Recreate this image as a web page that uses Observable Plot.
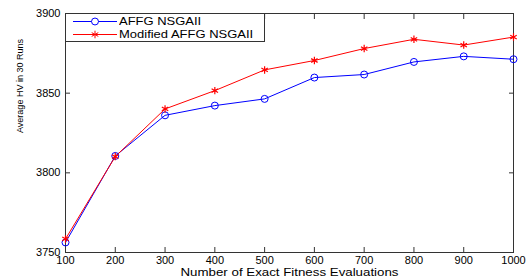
<!DOCTYPE html>
<html>
<head>
<meta charset="utf-8">
<script src="https://cdn.jsdelivr.net/npm/d3@7"></script>
<script src="https://cdn.jsdelivr.net/npm/@observablehq/plot@0.6"></script>
<style>
  html, body { margin: 0; padding: 0; background: #fff; }
  #wrap { position: relative; width: 529px; height: 280px; font-family: "Liberation Sans", Arial, sans-serif; }
  #legend { position: absolute; left: 65px; top: 13px; width: 200px; height: 29px; border: 1px solid #333; background: #fff; box-sizing: border-box; font-size: 11px; color: #000; }
  #legend .row { position: absolute; left: 0; height: 13px; line-height: 13px; white-space: nowrap; }
  #legend svg { position: absolute; left: 7px; top: 0; }
  #legend span { position: absolute; left: 53px; top: 0; transform: scaleX(1.18); transform-origin: left center; }
</style>
</head>
<body>
<div id="wrap"></div>
<script>
const evaluations = [100, 200, 300, 400, 500, 600, 700, 800, 900, 1000];
const affgNSGAII = [3756.3, 3810.6, 3836.1, 3842.2, 3846.4, 3859.8, 3861.7, 3869.6, 3873.1, 3871.3];
const modifiedAffgNSGAII = [3758.5, 3810.2, 3840.1, 3851.6, 3864.6, 3870.5, 3878.0, 3883.8, 3880.2, 3885.2];
const seriesNames = ["AFFG NSGAII", "Modified AFFG NSGAII"];
const xTicks = [100, 200, 300, 400, 500, 600, 700, 800, 900, 1000];
const yTicks = [3750, 3800, 3850, 3900];
const xLabel = "Number of Exact Fitness Evaluations";
const yLabel = "Average HV in 30 Runs";

const blue = evaluations.map((x, i) => ({x, y: affgNSGAII[i]}));
const red = evaluations.map((x, i) => ({x, y: modifiedAffgNSGAII[i]}));

const fmt = d3.format("d");
const font = "Liberation Sans, Arial, sans-serif";
const plot = Plot.plot({
  width: 529,
  height: 280,
  marginLeft: 65,
  marginRight: 16,
  marginTop: 13,
  marginBottom: 28,
  style: {fontFamily: font, fontSize: "11px", background: "#fff", color: "#000"},
  x: {domain: [100, 1000]},
  y: {domain: [3750, 3900]},
  marks: [
    // labels
    Plot.axisX(xTicks, {anchor: "bottom", tickSize: 0, tickPadding: 4, tickFormat: fmt, label: null, fill: "#000"}),
    Plot.axisY(yTicks, {anchor: "left", tickSize: 0, tickPadding: 5, tickFormat: fmt, label: null, fill: "#000"}),
    // inward ticks
    Plot.axisX(xTicks, {anchor: "bottom", tickSize: -5, tickFormat: () => "", label: null, stroke: "#333"}),
    Plot.axisX(xTicks, {anchor: "top", tickSize: -5, tickFormat: () => "", label: null, stroke: "#333"}),
    Plot.axisY(yTicks, {anchor: "left", tickSize: -5, tickFormat: () => "", label: null, stroke: "#333"}),
    Plot.axisY(yTicks, {anchor: "right", tickSize: -5, tickFormat: () => "", label: null, stroke: "#333"}),
    Plot.frame({stroke: "#333"}),
    Plot.line(blue, {x: "x", y: "y", stroke: "#0000ff", strokeWidth: 1}),
    Plot.line(red, {x: "x", y: "y", stroke: "#ff0000", strokeWidth: 1}),
    Plot.dot(blue, {x: "x", y: "y", r: 3.5, stroke: "#0000ff", fill: "none", strokeWidth: 1}),
    Plot.dot(red, {x: "x", y: "y", r: 3.5, symbol: "asterisk", stroke: "#ff0000", strokeWidth: 1.2}),
    Plot.text([xLabel], {frameAnchor: "bottom", dy: 23, text: d => d, fontSize: 11, fill: "#000"}),
    Plot.text([yLabel], {frameAnchor: "left", dx: -46, rotate: -90, text: d => d, fontSize: 9.5, fill: "#000"})
  ]
});
// stretch axis titles to the reference's wider lettering
d3.select(plot).selectAll("text").each(function() {
  const t = this.textContent;
  if (t === xLabel) this.setAttribute("textLength", 218), this.setAttribute("lengthAdjust", "spacingAndGlyphs");
  if (t === yLabel) this.setAttribute("textLength", 94), this.setAttribute("lengthAdjust", "spacingAndGlyphs");
});
const wrap = document.getElementById("wrap");
wrap.appendChild(plot);

// legend overlay
const legend = document.createElement("div");
legend.id = "legend";
const entries = [
  {name: seriesNames[0], color: "#0000ff", symbol: "circle"},
  {name: seriesNames[1], color: "#ff0000", symbol: "asterisk"}
];
entries.forEach((e, i) => {
  const row = document.createElement("div");
  row.className = "row";
  row.style.top = (1 + i * 13) + "px";
  row.style.width = "100%";
  const sym = e.symbol === "circle" ? d3.symbolCircle : d3.symbolAsterisk;
  const path = d3.symbol(sym, e.symbol === "circle" ? 38 : 40)();
  row.innerHTML = `<svg width="45" height="13"><line x1="0" x2="44" y1="6.5" y2="6.5" stroke="${e.color}"/>` +
    `<path d="${path}" transform="translate(22,6.5)" fill="${e.symbol === "circle" ? "#fff" : "none"}" stroke="${e.color}"/></svg>` +
    `<span>${e.name}</span>`;
  legend.appendChild(row);
});
wrap.appendChild(legend);
</script>
</body>
</html>
